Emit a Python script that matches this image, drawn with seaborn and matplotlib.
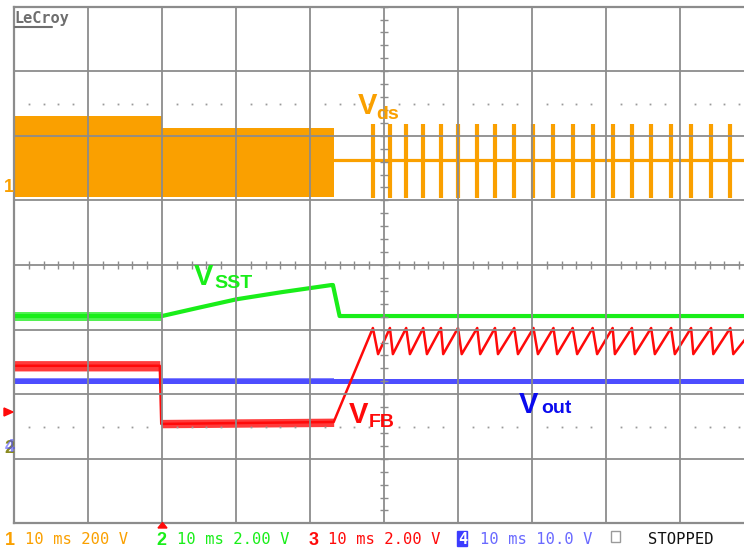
import numpy as np
import pandas as pd
import matplotlib
matplotlib.use("Agg")
import matplotlib.pyplot as plt
import seaborn as sns
from matplotlib.patches import Rectangle, Polygon

# ---------------- data (time in ms, level in screen divisions) ----------------
# Channel 1: Vds -- switching burst envelope, then burst-mode pulses
burst_t = [0.0, 20.0, 20.0, 43.2]
burst_top = [2.30, 2.30, 2.12, 2.12]
burst_bottom = [1.05, 1.05, 1.05, 1.05]
vds_idle_t = [43.2, 100.0]
vds_idle = [1.625, 1.625]
pulse_t = [48.5, 50.8, 53.0, 55.3, 57.7, 60.0, 62.6, 65.0, 67.6, 70.2,
           72.9, 75.5, 78.2, 80.9, 83.5, 86.1, 88.8, 91.5, 94.2, 96.8]
pulse_top = 2.18
pulse_bottom = 1.04

# Channel 2: soft-start voltage
sst_t = [0.0, 20.0, 25.0, 30.1, 36.2, 42.9, 43.1, 44.0, 100.0]
sst_v = [-0.79, -0.79, -0.66, -0.53, -0.42, -0.31, -0.31, -0.79, -0.79]
sst_noise_t = [0.0, 20.0]
sst_noise_hi = [-0.72, -0.72]
sst_noise_lo = [-0.87, -0.87]

# Channel 3: feedback voltage
fb_t0 = [0.0, 19.7, 19.9, 43.2]
fb_v0 = [-1.56, -1.56, -2.46, -2.43]
fb_noise_t = [0.0, 19.7, 19.9, 43.2]
fb_noise_hi = [-1.48, -1.48, -2.39, -2.37]
fb_noise_lo = [-1.64, -1.64, -2.52, -2.50]
fb_peak_t = pulse_t
fb_peak = -0.975
fb_trough_t = [49.2, 51.2, 53.5, 55.8, 58.0, 60.5, 63.0, 65.4, 68.1, 70.8,
               73.4, 76.1, 78.8, 81.2, 83.9, 86.6, 89.3, 91.8, 94.5, 97.2]
fb_trough = -1.38
fb_end = (100.0, -0.98)

# Channel 4: output voltage
vout_t = [0.0, 100.0]
vout_v = [-1.79, -1.79]
vout_noise_t = [0.0, 43.2]
vout_noise_hi = [-1.745, -1.745]
vout_noise_lo = [-1.835, -1.835]

# ---------------- styling ----------------
C_ORANGE = "#faa000"
C_GREEN = "#19ee19"
C_RED = "#ff0a0a"
C_BLUE_LINE = "#4d4dff"
C_BLUE_TXT = "#0a0aee"
C_GRID = "#8c8c8c"

sns.set_theme(style="white")
plt.rcParams["font.family"] = ["DejaVu Sans"]

W, H = 744, 550
fig = plt.figure(figsize=(W / 100, H / 100), dpi=100)
fig.patch.set_facecolor("white")

# screen geometry (pixels)
X0, Y0, DX, DY = 14.0, 523.4, 74.0, 64.6
ax = fig.add_axes([X0 / W, (H - Y0) / H, 10 * DX / W, 8 * DY / H])
ax.set_xlim(0, 100)
ax.set_ylim(-4, 4)
ax.set_facecolor("white")


def px(x, y):
    """screen pixel -> data coordinates"""
    return (x - X0) / DX * 10.0, (265.0 - y) / DY


# graticule
ax.set_xticks(np.arange(0, 101, 10))
ax.set_yticks(np.arange(-4, 5, 1))
ax.set_xticklabels([])
ax.set_yticklabels([])
ax.tick_params(length=0)
ax.set_axisbelow(False)
ax.grid(True, color=C_GRID, lw=1.3)
for s in ax.spines.values():
    s.set_color(C_GRID)
    s.set_linewidth(1.6)

# center-cross minor ticks and dotted rows
minor_x = np.arange(0, 100.01, 2)
minor_x = minor_x[np.mod(minor_x, 10) != 0]
ax.vlines(minor_x, -0.055, 0.055, color=C_GRID, lw=1.0, zorder=3)
minor_y = np.arange(-4, 4.01, 0.2)
ax.hlines(minor_y, 50 - 0.55, 50 + 0.55, color=C_GRID, lw=1.0, zorder=3)
for yy in (2.5, -2.5):
    ax.plot(minor_x, np.full_like(minor_x, yy), ls="none", marker="s",
            ms=1.3, color="#9a9a9a", mew=0, zorder=3)

# ---------------- traces ----------------
# Vds
ax.fill_between(burst_t, burst_bottom, burst_top, color=C_ORANGE, lw=0, zorder=1)
sns.lineplot(x=vds_idle_t, y=vds_idle, ax=ax, color=C_ORANGE, lw=2.3,
             estimator=None, sort=False, zorder=2)
ax.vlines(pulse_t, pulse_bottom, pulse_top, color=C_ORANGE, lw=3.0, zorder=2)

# SST
ax.fill_between(sst_noise_t, sst_noise_lo, sst_noise_hi, color=C_GREEN,
                alpha=0.75, lw=0, zorder=1)
sns.lineplot(x=sst_t, y=sst_v, ax=ax, color=C_GREEN, lw=3.0,
             estimator=None, sort=False, zorder=2)

# Vout
ax.fill_between(vout_noise_t, vout_noise_lo, vout_noise_hi, color=C_BLUE_LINE,
                alpha=0.7, lw=0, zorder=1)
sns.lineplot(x=vout_t, y=vout_v, ax=ax, color=C_BLUE_LINE, lw=3.6,
             estimator=None, sort=False, zorder=2)

# FB
ax.fill_between(fb_noise_t, fb_noise_lo, fb_noise_hi, color=C_RED,
                alpha=0.8, lw=0, zorder=1)
fb_x = list(fb_t0) + [fb_peak_t[0]]
fb_y = list(fb_v0) + [fb_peak]
for i, tt in enumerate(fb_trough_t):
    fb_x.append(tt)
    fb_y.append(fb_trough)
    if i + 1 < len(fb_peak_t):
        fb_x.append(fb_peak_t[i + 1])
        fb_y.append(fb_peak)
fb_x.append(fb_end[0])
fb_y.append(fb_end[1])
fb = pd.DataFrame({"t": fb_x, "v": fb_y})
sns.lineplot(data=fb, x="t", y="v", ax=ax, color=C_RED, lw=1.8,
             estimator=None, sort=False, zorder=2)
ax.set_xlabel("")
ax.set_ylabel("")

# ---------------- trace labels ----------------
BIG, SUB = 21, 14
lab = dict(fontweight="bold", family=["Liberation Sans", "DejaVu Sans"],
           va="baseline", ha="left", zorder=6)
x, y = px(358, 114); ax.text(x, y, "V", color=C_ORANGE, fontsize=BIG, **lab)
x, y = px(376, 119); ax.text(x, y, "ds", color=C_ORANGE, fontsize=SUB, **lab)
x, y = px(194, 285); ax.text(x, y, "V", color=C_GREEN, fontsize=BIG, **lab)
x, y = px(214, 288); ax.text(x, y, "SST", color=C_GREEN, fontsize=SUB, **lab)
x, y = px(349, 423); ax.text(x, y, "V", color=C_RED, fontsize=BIG, **lab)
x, y = px(369, 427); ax.text(x, y, "FB", color=C_RED, fontsize=SUB, **lab)
x, y = px(519, 413); ax.text(x, y, "V", color=C_BLUE_TXT, fontsize=BIG, **lab)
x, y = px(541, 413); ax.text(x, y, "out", color=C_BLUE_TXT, fontsize=SUB, **lab)

# ---------------- screen annotations ----------------
def ftxt(x, y, s, **kw):
    fig.text(x / W, 1 - y / H, s, **kw)


mono = dict(family=["DejaVu Sans Mono"], fontsize=11.2, va="baseline", ha="left")
bold = dict(family=["Liberation Sans", "DejaVu Sans"], fontweight="bold",
            fontsize=13, va="baseline", ha="left")

# LeCroy logo
ftxt(14.5, 23.5, "LeCroy", color="#6e6e6e", family=["DejaVu Sans Mono"],
     fontweight="bold", fontsize=11, va="baseline", ha="left")
fig.add_artist(plt.Line2D([15 / W, 52 / W], [1 - 26.5 / H, 1 - 26.5 / H],
                          color="#6e6e6e", lw=1.5))

# channel markers on the left edge
ftxt(4, 192, "1", color=C_ORANGE, **bold)
fig.add_artist(Polygon([[4 / W, 1 - 408 / H], [4 / W, 1 - 416 / H], [13 / W, 1 - 412 / H]],
                       closed=True, color=C_RED))
ftxt(4, 453, "2", color="#8a8a20", **bold)
ftxt(5, 452, "4", color=C_BLUE_LINE, alpha=0.6, **bold)

# bottom status line
BY = 545
ftxt(5, BY, "1", color=C_ORANGE, **bold)
ftxt(25, BY - 1, "10 ms 200 V", color=C_ORANGE, **mono)
fig.add_artist(Polygon([[158 / W, 1 - 528 / H], [167 / W, 1 - 528 / H], [162.5 / W, 1 - 522.5 / H]],
                       closed=True, color=C_RED))
ftxt(156, BY, "2", color=C_GREEN, **bold)
ftxt(177, BY - 1, "10 ms 2.00 V", color=C_GREEN, **mono)
ftxt(309, BY, "3", color=C_RED, **bold)
ftxt(328, BY - 1, "10 ms 2.00 V", color=C_RED, **mono)
fig.add_artist(Rectangle((457.5 / W, 1 - 546 / H), 10 / W, 15 / H, color="#3c3cff"))
ftxt(458.5, BY - 1, "4", color="white", family=["DejaVu Sans Mono"], fontsize=11,
     fontweight="bold", va="baseline", ha="left")
ftxt(480, BY - 1, "10 ms 10.0 V", color="#6a6aff", **mono)
fig.add_artist(Rectangle((611 / W, 1 - 542 / H), 8.5 / W, 11 / H, fill=False,
                         edgecolor="#9a9a9a", lw=1.0))
ftxt(648, BY - 1, "STOPPED", color="#111111", **mono)

fig.savefig("out.png", dpi=100)
